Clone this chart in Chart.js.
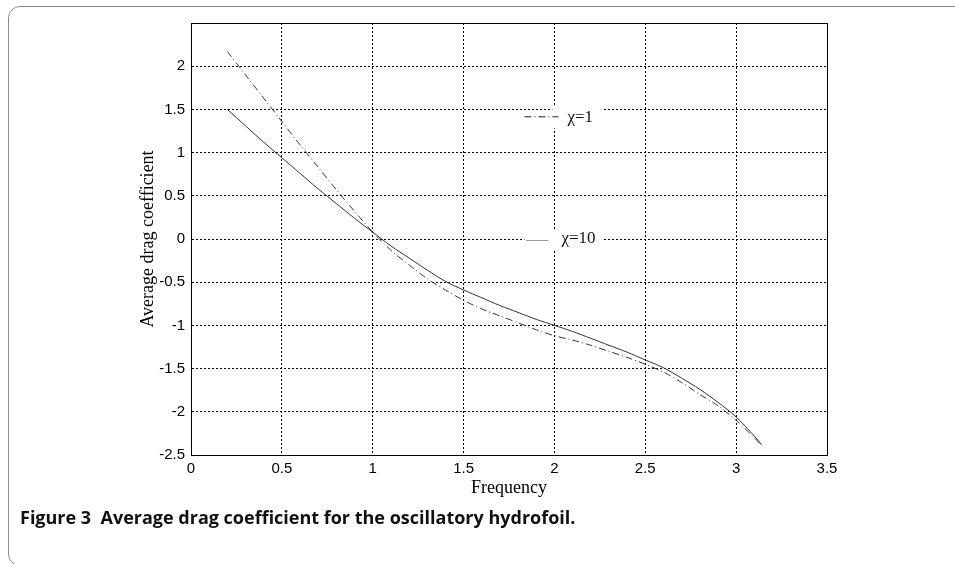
<!DOCTYPE html>
<html>
<head>
<meta charset="utf-8">
<script src="https://cdn.jsdelivr.net/npm/chart.js@4.4.1/dist/chart.umd.min.js"></script>
<style>
  html, body { margin: 0; padding: 0; background: #fff; overflow: hidden; }
  #wrap { position: relative; width: 955px; height: 564px; }
  #frame {
    position: absolute; left: 8px; top: 6px; width: 1100px; height: 560px;
    border: 1px solid #8a8a8a; border-radius: 12px; box-sizing: border-box;
  }
  #chart { position: absolute; left: 0; top: 0; }
  #caption {
    position: absolute; left: 20px; top: 505px;
    font: bold 18px "Open Sans", "Noto Sans", sans-serif; color: #111; white-space: pre;
  }
</style>
</head>
<body>
<div id="wrap">
  <div id="frame"></div>
  <canvas id="chart" width="955" height="564"></canvas>
  <div id="caption">Figure 3  Average drag coefficient for the oscillatory hydrofoil.</div>
</div>
<script>
// القيم المقروءة من الصورة
const frequency = [0.2, 0.3, 0.4, 0.5, 0.6, 0.7, 0.8, 0.9, 1.0, 1.1, 1.2, 1.3, 1.4, 1.5, 1.6, 1.7,
  1.8, 1.9, 2.0, 2.1, 2.2, 2.3, 2.4, 2.5, 2.6, 2.7, 2.8, 2.9, 3.0, 3.1, 3.14];
const dragChi1 = [2.17, 1.90, 1.63, 1.36, 1.09, 0.83, 0.57, 0.32, 0.08, -0.13, -0.30, -0.46, -0.59,
  -0.71, -0.81, -0.89, -0.97, -1.05, -1.12, -1.17, -1.23, -1.30, -1.37, -1.45, -1.54, -1.66,
  -1.80, -1.93, -2.10, -2.30, -2.39];
const dragChi10 = [1.50, 1.31, 1.12, 0.94, 0.76, 0.58, 0.41, 0.24, 0.08, -0.08, -0.22, -0.36, -0.49,
  -0.59, -0.68, -0.77, -0.85, -0.93, -1.00, -1.07, -1.15, -1.23, -1.31, -1.40, -1.49, -1.61,
  -1.74, -1.89, -2.06, -2.28, -2.38];
const seriesLabels = ['χ=1', 'χ=10'];
const xTicks = [0, 0.5, 1, 1.5, 2, 2.5, 3, 3.5];
const yTicks = [-2.5, -2, -1.5, -1, -0.5, 0, 0.5, 1, 1.5, 2];

const dashDot = [7, 3, 1, 3];

function toPoints(ys) {
  return frequency.map((x, i) => ({ x: x, y: ys[i] }));
}

// إطار المحاور والتسميات داخل الرسم
const boxAndLabels = {
  id: 'boxAndLabels',
  beforeDraw(chart) {
    const ctx = chart.ctx;
    ctx.save();
    ctx.fillStyle = '#fff';
    ctx.fillRect(chart.chartArea.left, chart.chartArea.top,
      chart.chartArea.right - chart.chartArea.left, chart.chartArea.bottom - chart.chartArea.top);
    ctx.restore();
  },
  afterDraw(chart) {
    const ctx = chart.ctx;
    const a = chart.chartArea;
    const xs = chart.scales.x, ys = chart.scales.y;
    ctx.save();
    ctx.strokeStyle = '#000';
    ctx.lineWidth = 1;
    ctx.strokeRect(Math.round(a.left) + 0.5, Math.round(a.top) + 0.5,
      Math.round(a.right - a.left), Math.round(a.bottom - a.top));

    ctx.font = '17px "Liberation Serif", "Times New Roman", serif';
    ctx.textBaseline = 'middle';

    // χ=1
    let px = xs.getPixelForValue(2.0), py = ys.getPixelForValue(1.42);
    ctx.fillStyle = '#fff';
    ctx.fillRect(px - 2, py - 10, 51, 22);
    ctx.strokeStyle = '#222';
    ctx.setLineDash(dashDot);
    ctx.beginPath();
    ctx.moveTo(px - 30, py + 0.5);
    ctx.lineTo(px + 4, py + 0.5);
    ctx.stroke();
    ctx.setLineDash([]);
    ctx.fillStyle = '#111';
    ctx.fillText(seriesLabels[0], px + 13, py + 1);

    // χ=10
    px = xs.getPixelForValue(2.0); py = ys.getPixelForValue(0);
    ctx.fillStyle = '#fff';
    ctx.fillRect(px - 30, py - 10, 78, 21);
    ctx.strokeStyle = '#999';
    ctx.beginPath();
    ctx.moveTo(px - 28, py + 1.5);
    ctx.lineTo(px - 6, py + 1.5);
    ctx.stroke();
    ctx.fillStyle = '#111';
    ctx.fillText(seriesLabels[1], px + 7, py);
    ctx.restore();
  }
};

const tickFont = { family: '"Liberation Sans", Arial, sans-serif', size: 15 };
const titleFont = { family: '"Liberation Serif", "Times New Roman", serif', size: 18 };

new Chart(document.getElementById('chart'), {
  type: 'line',
  data: {
    datasets: [
      {
        label: seriesLabels[0],
        data: toPoints(dragChi1),
        borderColor: '#3a3a3a',
        borderWidth: 1,
        borderDash: dashDot,
        pointRadius: 0,
        tension: 0.3,
        fill: false
      },
      {
        label: seriesLabels[1],
        data: toPoints(dragChi10),
        borderColor: '#333',
        borderWidth: 1,
        pointRadius: 0,
        tension: 0.3,
        fill: false
      }
    ]
  },
  options: {
    responsive: false,
    animation: false,
    layout: { padding: { left: 137, right: 128, top: 23, bottom: 65 } },
    plugins: {
      legend: { display: false },
      tooltip: { enabled: false }
    },
    scales: {
      x: {
        type: 'linear',
        min: 0,
        max: 3.5,
        afterBuildTicks(scale) { scale.ticks = xTicks.map(v => ({ value: v })); },
        afterFit(scale) { scale.height = 44; },
        ticks: { color: '#000', font: tickFont, padding: 5, maxRotation: 0,
          callback: v => String(v) },
        grid: { color: '#000', lineWidth: 1, drawTicks: false },
        border: { display: true, color: '#000', dash: [2, 2] },
        title: { display: true, text: 'Frequency', color: '#000', font: titleFont, padding: 0 }
      },
      y: {
        type: 'linear',
        min: -2.5,
        max: 2.5,
        afterBuildTicks(scale) { scale.ticks = yTicks.map(v => ({ value: v })); },
        afterFit(scale) { scale.width = 54; },
        ticks: { color: '#000', font: tickFont, padding: 6,
          callback: v => String(v) },
        grid: { color: '#000', lineWidth: 1, drawTicks: false },
        border: { display: true, color: '#000', dash: [2, 2] },
        title: { display: true, text: 'Average drag coefficient', color: '#000', font: titleFont, padding: 0 }
      }
    }
  },
  plugins: [boxAndLabels]
});
</script>
</body>
</html>
